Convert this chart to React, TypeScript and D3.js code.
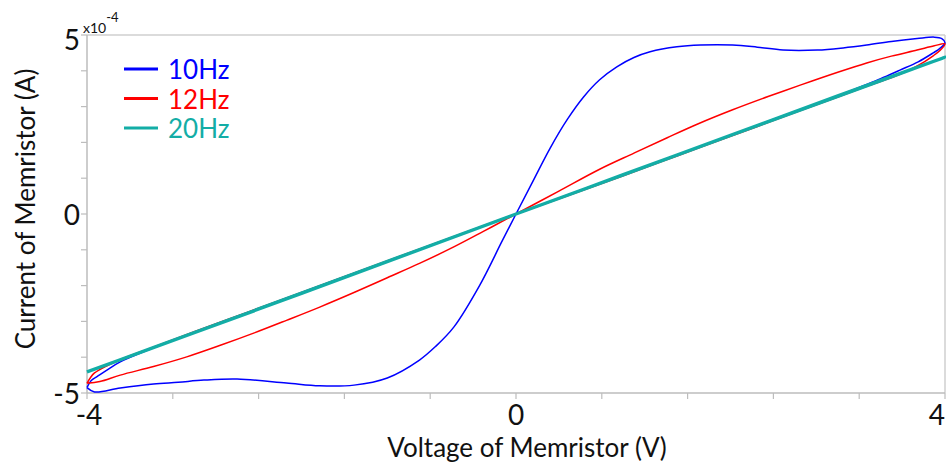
import React, { useRef, useEffect } from 'react';
import * as d3 from 'd3';

// current values are in units of 1e-4 A, each loop starts at the -4 V tip
const hz10: [number, number][] = [
  [-4.0, -4.85], [-3.93, -4.97], [-3.69, -4.86], [-3.38, -4.75], [-3.15, -4.7],
  [-2.91, -4.64], [-2.6, -4.61], [-2.14, -4.72], [-1.83, -4.8], [-1.51, -4.78],
  [-1.2, -4.58], [-0.9, -4.08], [-0.75, -3.7], [-0.58, -3.16], [-0.34, -2.0],
  [-0.13, -0.76], [0, 0], [0.15, 0.87], [0.32, 1.85], [0.48, 2.65], [0.63, 3.27],
  [0.78, 3.75], [0.94, 4.11], [1.1, 4.37], [1.25, 4.53], [1.5, 4.67], [1.72, 4.72],
  [2.02, 4.72], [2.25, 4.66], [2.49, 4.58], [2.81, 4.58], [3.05, 4.64], [3.27, 4.72],
  [3.5, 4.82], [3.74, 4.9], [3.9, 4.94], [3.97, 4.9], [4.0, 4.78],
  [3.95, 4.62], [3.89, 4.5], [3.75, 4.25], [3.58, 4.02], [3.4, 3.78], [3.27, 3.62],
  [3.0, 3.3], [2.5, 2.75], [2.0, 2.2], [1.5, 1.65], [1.0, 1.1], [0.5, 0.55], [0, 0],
  [-0.5, -0.55], [-1.0, -1.1], [-1.5, -1.65], [-2.0, -2.2], [-2.5, -2.75], [-3.0, -3.3],
  [-3.38, -3.74], [-3.69, -4.13], [-3.8, -4.33], [-3.91, -4.55], [-3.96, -4.65], [-4.0, -4.85]
];

const hz12: [number, number][] = [
  [-4.0, -4.73], [-3.88, -4.68], [-3.69, -4.5], [-3.38, -4.26], [-3.07, -3.99],
  [-2.75, -3.66], [-2.44, -3.32], [-2.14, -2.97], [-1.83, -2.6], [-1.5, -2.18],
  [-1.2, -1.78], [-0.9, -1.38], [-0.58, -0.92], [-0.3, -0.48], [0, 0], [0.4, 0.64],
  [0.78, 1.25], [1.1, 1.7], [1.41, 2.13], [1.7, 2.52], [2.02, 2.91], [2.35, 3.28],
  [2.65, 3.6], [3.0, 3.96], [3.27, 4.22], [3.5, 4.41], [3.74, 4.58], [3.9, 4.7], [4.0, 4.75],
  [3.95, 4.56], [3.89, 4.42], [3.75, 4.15], [3.58, 3.9], [3.3, 3.6], [3.0, 3.27],
  [2.5, 2.72], [2.0, 2.17], [1.5, 1.62], [1.0, 1.07], [0.5, 0.53], [0, 0],
  [-0.5, -0.54], [-1.0, -1.09], [-1.5, -1.64], [-2.0, -2.19], [-2.5, -2.74], [-3.0, -3.29],
  [-3.4, -3.74], [-3.69, -4.07], [-3.8, -4.22], [-3.93, -4.44], [-3.97, -4.58], [-4.0, -4.73]
];

const hz20: [number, number][] = [
  [-4.0, -4.41], [-3.0, -3.31], [-2.0, -2.21], [-1.0, -1.1], [0, 0], [1.0, 1.09],
  [2.0, 2.19], [3.0, 3.28], [4.0, 4.38],
  [3.0, 3.3], [2.0, 2.2], [1.0, 1.1], [0, 0], [-1.0, -1.11], [-2.0, -2.22],
  [-3.0, -3.32], [-4.0, -4.41]
];

const series = [
  { name: '10Hz', color: '#0000ff', width: 1.5, data: hz10 },
  { name: '12Hz', color: '#ff0000', width: 1.5, data: hz12 },
  { name: '20Hz', color: '#13ada6', width: 3.2, data: hz20 }
];

const xLabels = [-4, 0, 4];
const yLabels = [-5, 0, 5];

const W = 946;
const H = 472;
const font = 'Lato, "Open Sans", sans-serif';

export default () => {
  const svgRef = useRef<SVGSVGElement>(null);

  useEffect(() => {
    if (!svgRef.current) return;
    const svg = d3.select(svgRef.current);
    svg.selectAll('*').remove();

    const x = d3.scaleLinear().domain([-4, 4]).range([87, 945]);
    const y = d3.scaleLinear().domain([-5, 5]).range([393, 35]);

    // frame
    svg.append('line').attr('x1', x(-4)).attr('x2', x(4)).attr('y1', y(5)).attr('y2', y(5))
      .style('stroke', '#cfcfcf').style('stroke-width', 1.5);
    svg.append('line').attr('x1', x(4)).attr('x2', x(4)).attr('y1', y(5)).attr('y2', y(-5))
      .style('stroke', '#cfcfcf').style('stroke-width', 1.5);

    // axes
    svg.append('line').attr('x1', x(-4)).attr('x2', x(4)).attr('y1', y(-5)).attr('y2', y(-5))
      .style('stroke', '#bdbdbd').style('stroke-width', 1.5);
    svg.append('line').attr('x1', x(-4)).attr('x2', x(-4)).attr('y1', y(5)).attr('y2', y(-5))
      .style('stroke', '#bdbdbd').style('stroke-width', 1.5);

    d3.range(-5, 6).forEach((v) => {
      svg.append('line').attr('x1', x(-4) - 6).attr('x2', x(-4)).attr('y1', y(v)).attr('y2', y(v))
        .style('stroke', '#bdbdbd').style('stroke-width', 1.2);
    });
    d3.range(0, 11).forEach((i) => {
      const v = -4 + i * 0.8;
      svg.append('line').attr('x1', x(v)).attr('x2', x(v)).attr('y1', y(-5)).attr('y2', y(-5) + 6)
        .style('stroke', '#bdbdbd').style('stroke-width', 1.2);
    });

    yLabels.forEach((v) => {
      svg.append('text').attr('x', x(-4) - 7).attr('y', y(v) + (v === 5 ? 4 : 0))
        .attr('text-anchor', 'end').attr('dominant-baseline', 'central')
        .style('font-family', font).style('font-size', '28px').style('fill', '#111')
        .text(String(v));
    });
    xLabels.forEach((v) => {
      // the last label would run off the right edge, so it ends at the edge
      const anchor = v === 4 ? 'end' : 'middle';
      const lx = v === 4 ? W - 1 : x(v) + (v === -4 ? 2 : 0);
      svg.append('text').attr('x', lx).attr('y', 414)
        .attr('text-anchor', anchor).attr('dominant-baseline', 'central')
        .style('font-family', font).style('font-size', '28px').style('fill', '#111')
        .text(String(v));
    });

    // exponent
    const exp = svg.append('text').attr('x', 83).attr('y', 33)
      .style('font-family', font).style('font-size', '14px').style('fill', '#111');
    exp.append('tspan').text('x10');
    exp.append('tspan').attr('dy', -11).style('font-size', '13px').text('-4');

    // curves
    const line = d3.line<[number, number]>()
      .x((d) => x(d[0]))
      .y((d) => y(d[1]))
      .curve(d3.curveCatmullRom.alpha(0.5));

    series.forEach((s) => {
      svg.append('path').attr('d', line(s.data) as string)
        .style('fill', 'none').style('stroke', s.color).style('stroke-width', s.width)
        .style('stroke-linejoin', 'round');
    });

    // legend
    series.forEach((s, i) => {
      const ly = 69 + i * 29.5;
      svg.append('line').attr('x1', 124).attr('x2', 158).attr('y1', ly).attr('y2', ly)
        .style('stroke', s.color).style('stroke-width', 3);
      svg.append('text').attr('x', 168).attr('y', ly).attr('dominant-baseline', 'central')
        .style('font-family', font).style('font-size', '26px').style('fill', s.color)
        .text(s.name);
    });

    // titles
    svg.append('text').attr('x', 527).attr('y', 457).attr('text-anchor', 'middle')
      .style('font-family', font).style('font-size', '26px').style('fill', '#111')
      .text('Voltage of Memristor (V)');
    svg.append('text').attr('transform', 'translate(35,209) rotate(-90)').attr('text-anchor', 'middle')
      .style('font-family', font).style('font-size', '26px').style('fill', '#111')
      .text('Current of Memristor (A)');
  }, []);

  return (
    <div style={{ position: 'absolute', left: 0, top: 0, width: W, height: H, background: '#fff' }}>
      <svg width={W} height={H} ref={svgRef} />
    </div>
  );
};
